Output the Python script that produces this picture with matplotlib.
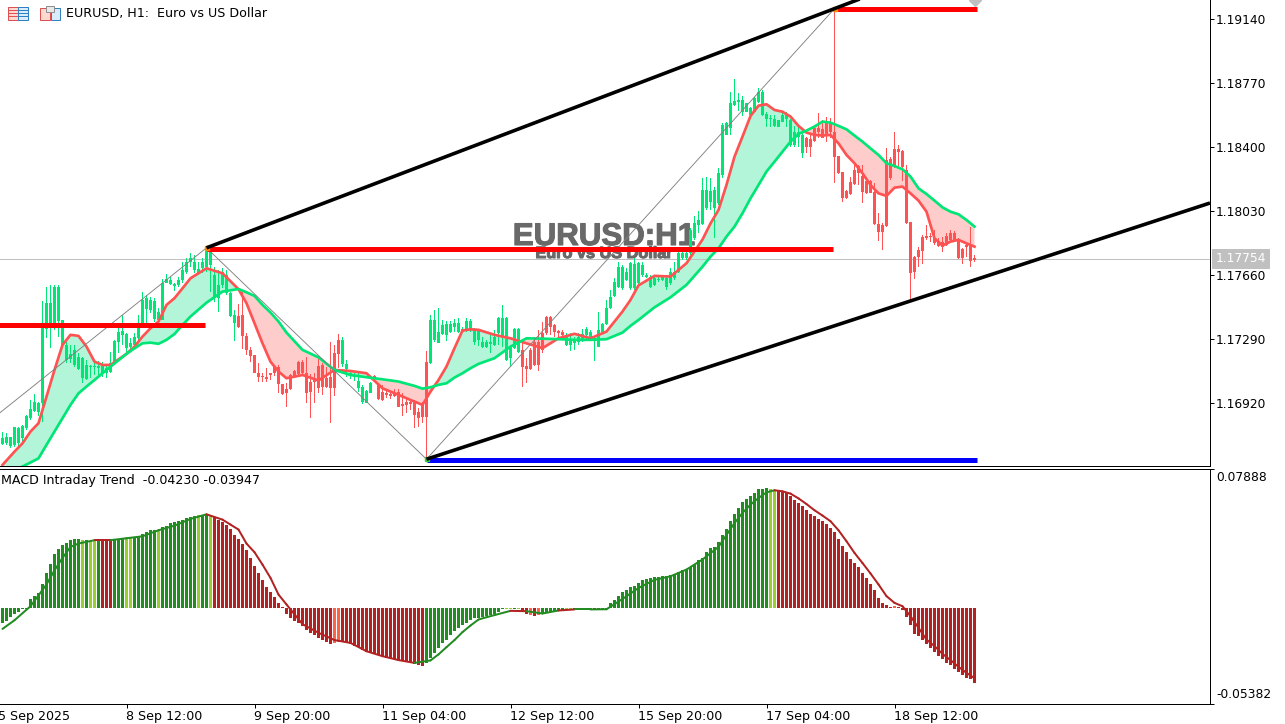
"""EURUSD H1 chart with EMA ribbon, channel, zigzag and MACD Intraday Trend panel."""
import matplotlib
matplotlib.use("Agg")
import matplotlib.patheffects as pe
import matplotlib.pyplot as plt
import numpy as np
from matplotlib.patches import Rectangle

W, H = 1285, 724
PANEL_RIGHT = 1210
MAIN_BOTTOM = 466
SUB_TOP, SUB_BOTTOM = 468.5, 703.5

# prices are stored in points above 1.16000
BASE = 1.16
POINT = 1e-5

BODY_TOP = [
    716, 722, 722, 780, 774, 788, 842, 884, 928, 922,
    1352, 1501, 1501, 1593, 1593, 1400, 1256, 1204, 1227, 1188,
    1179, 1140, 1134, 1136, 1134, 1136, 1125, 1154, 1279, 1333,
    1337, 1319, 1269, 1300, 1371, 1516, 1526, 1516, 1512, 1448,
    1616, 1635, 1632, 1608, 1632, 1689, 1738, 1757, 1738, 1693,
    1738, 1801, 1805, 1660, 1603, 1680, 1660, 1554, 1429, 1423,
    1429, 1308, 1227, 1198, 1096, 1077, 1069, 1092, 1130, 1130,
    1030, 1000, 1082, 1107, 1159, 1159, 1092, 1044, 1053, 1134,
    1140, 1063, 1069, 1208, 1285, 1285, 1146, 1096, 1082, 1050,
    1015, 992, 1038, 1076, 1030, 986, 980, 973, 980, 986,
    915, 928, 928, 928, 870, 922, 1159, 1400, 1400, 1333,
    1371, 1375, 1375, 1381, 1381, 1346, 1394, 1396, 1346, 1342,
    1275, 1275, 1275, 1300, 1410, 1410, 1414, 1246, 1346, 1346,
    1227, 1134, 1227, 1275, 1275, 1323, 1420, 1420, 1371, 1337,
    1333, 1304, 1281, 1285, 1304, 1317, 1346, 1333, 1294, 1342,
    1375, 1468, 1531, 1622, 1708, 1708, 1680, 1728, 1724, 1728,
    1718, 1660, 1651, 1641, 1639, 1647, 1641, 1680, 1680, 1789,
    1789, 1789, 1920, 1959, 1978, 2152, 2152, 2148, 2152, 2248,
    2527, 2537, 2653, 2666, 2672, 2672, 2653, 2624, 2682, 2720,
    2720, 2591, 2566, 2560, 2556, 2585, 2585, 2556, 2489, 2489,
    2470, 2450, 2445, 2508, 2508, 2502, 2537, 2541, 2489, 2348,
    2258, 2148, 2200, 2267, 2290, 2232, 2205, 2205, 2142, 1955,
    1949, 2325, 2329, 2387, 2387, 2377, 2267, 1969, 1766, 1805,
    1882, 1886, 1886, 1872, 1859, 1853, 1888, 1901, 1901, 1862,
    1809, 1834, 1828, 1757,
]
BODY_BOT = [
    683, 687, 672, 678, 687, 716, 774, 832, 876, 870,
    919, 1346, 1362, 1362, 1396, 1256, 1169, 1173, 1140, 1115,
    1063, 1057, 1127, 1129, 1123, 1092, 1092, 1102, 1154, 1275,
    1314, 1236, 1246, 1256, 1294, 1352, 1462, 1458, 1404, 1400,
    1400, 1616, 1608, 1597, 1603, 1632, 1680, 1734, 1689, 1674,
    1699, 1709, 1718, 1535, 1526, 1603, 1554, 1423, 1381, 1362,
    1308, 1227, 1192, 1096, 1069, 1069, 1061, 1084, 1092, 1030,
    972, 976, 1000, 1077, 1088, 1092, 976, 986, 1044, 1005,
    1011, 1011, 1005, 1005, 1204, 1146, 1115, 1077, 1069, 1005,
    928, 922, 980, 1057, 942, 938, 967, 961, 961, 899,
    903, 909, 915, 851, 832, 841, 841, 1150, 1285, 1269,
    1319, 1314, 1333, 1358, 1333, 1333, 1346, 1346, 1275, 1285,
    1246, 1246, 1262, 1256, 1323, 1294, 1169, 1179, 1236, 1217,
    1131, 1115, 1115, 1140, 1140, 1227, 1323, 1362, 1333, 1327,
    1314, 1256, 1256, 1269, 1275, 1285, 1314, 1294, 1285, 1246,
    1333, 1375, 1468, 1539, 1593, 1583, 1631, 1583, 1583, 1612,
    1660, 1651, 1593, 1603, 1631, 1631, 1593, 1612, 1641, 1680,
    1757, 1757, 1786, 1872, 1950, 1955, 2046, 2084, 2046, 2075,
    2238, 2470, 2508, 2643, 2662, 2604, 2604, 2585, 2604, 2662,
    2585, 2560, 2560, 2522, 2518, 2547, 2560, 2412, 2412, 2460,
    2368, 2398, 2398, 2437, 2489, 2454, 2470, 2489, 2344, 2252,
    2103, 2103, 2128, 2186, 2248, 2142, 2136, 2136, 1955, 1911,
    1911, 1944, 2219, 2287, 2373, 2287, 1959, 1674, 1680, 1762,
    1801, 1872, 1878, 1843, 1828, 1824, 1834, 1862, 1862, 1757,
    1757, 1824, 1743, 1745,
]
HIGH = [
    755, 745, 726, 784, 784, 793, 851, 938, 972, 928,
    1512, 1593, 1603, 1603, 1603, 1400, 1275, 1256, 1256, 1208,
    1188, 1169, 1140, 1159, 1163, 1159, 1140, 1217, 1285, 1352,
    1429, 1323, 1294, 1323, 1429, 1564, 1545, 1535, 1526, 1468,
    1635, 1664, 1647, 1616, 1651, 1734, 1757, 1786, 1776, 1738,
    1757, 1815, 1805, 1709, 1689, 1699, 1689, 1564, 1458, 1493,
    1574, 1323, 1242, 1198, 1150, 1096, 1121, 1096, 1140, 1140,
    1030, 1034, 1088, 1111, 1165, 1169, 1188, 1088, 1092, 1188,
    1150, 1130, 1275, 1256, 1319, 1304, 1169, 1111, 1092, 1092,
    1025, 996, 1044, 1082, 1038, 1025, 996, 986, 999, 999,
    976, 947, 938, 938, 890, 928, 1221, 1429, 1458, 1468,
    1400, 1396, 1396, 1404, 1410, 1362, 1410, 1404, 1352, 1346,
    1304, 1285, 1314, 1342, 1416, 1487, 1420, 1256, 1352, 1352,
    1285, 1179, 1237, 1304, 1342, 1391, 1424, 1424, 1375, 1342,
    1340, 1323, 1323, 1300, 1323, 1346, 1358, 1342, 1300, 1448,
    1381, 1516, 1574, 1641, 1737, 1718, 1700, 1737, 1757, 1737,
    1737, 1670, 1660, 1651, 1647, 1660, 1651, 1699, 1737, 1824,
    1814, 1814, 1930, 2000, 2030, 2219, 2225, 2219, 2171, 2277,
    2537, 2547, 2720, 2791, 2714, 2695, 2653, 2629, 2691, 2739,
    2730, 2600, 2585, 2585, 2556, 2595, 2604, 2560, 2522, 2527,
    2489, 2460, 2479, 2527, 2599, 2556, 2575, 2566, 3200, 2348,
    2258, 2152, 2225, 2296, 2296, 2296, 2229, 2209, 2190, 2017,
    1959, 2393, 2344, 2489, 2412, 2383, 2296, 1969, 1770, 1824,
    1891, 1949, 1905, 1920, 1872, 1882, 1901, 1920, 1916, 1872,
    1814, 1847, 1940, 1776,
]
LOW = [
    678, 678, 658, 668, 668, 687, 764, 822, 870, 842,
    813, 1294, 1236, 1343, 1304, 1256, 1150, 1150, 1127, 1111,
    1034, 1053, 1063, 1082, 1082, 1073, 1063, 1092, 1150, 1208,
    1256, 1217, 1217, 1236, 1285, 1352, 1381, 1439, 1391, 1385,
    1400, 1612, 1603, 1570, 1593, 1612, 1666, 1709, 1670, 1660,
    1670, 1680, 1564, 1506, 1448, 1583, 1545, 1420, 1281, 1352,
    1231, 1198, 1159, 1092, 1044, 1044, 1044, 1053, 1077, 976,
    967, 899, 996, 1073, 1073, 1088, 919, 832, 919, 976,
    967, 1005, 807, 961, 1121, 1131, 1069, 1057, 1050, 984,
    915, 918, 976, 1053, 938, 934, 947, 942, 957, 895,
    842, 865, 880, 778, 780, 803, 600, 1146, 1275, 1265,
    1314, 1281, 1323, 1333, 1323, 1327, 1333, 1333, 1256, 1250,
    1236, 1236, 1208, 1250, 1256, 1246, 1165, 1127, 1231, 1208,
    1015, 1038, 1111, 1134, 1107, 1208, 1314, 1314, 1300, 1300,
    1300, 1250, 1223, 1227, 1256, 1275, 1281, 1285, 1165, 1242,
    1327, 1371, 1462, 1531, 1583, 1574, 1625, 1574, 1574, 1603,
    1647, 1641, 1583, 1599, 1622, 1626, 1574, 1603, 1631, 1670,
    1747, 1747, 1776, 1863, 1900, 1949, 2036, 2036, 1872, 2065,
    2219, 2470, 2470, 2637, 2610, 2579, 2604, 2566, 2600, 2653,
    2581, 2518, 2518, 2518, 2514, 2543, 2518, 2398, 2398, 2402,
    2335, 2364, 2340, 2431, 2450, 2450, 2431, 2450, 2194, 2244,
    2084, 2098, 2123, 2180, 2180, 2078, 2128, 2132, 1949, 1859,
    1805, 1940, 2209, 2277, 2287, 2205, 1955, 1516, 1635, 1708,
    1724, 1863, 1853, 1834, 1824, 1795, 1828, 1853, 1853, 1751,
    1724, 1766, 1708, 1737,
]
# bars that are drawn green (inclusive index runs); the rest are red
UP_RUNS = [(0, 58), (85, 92), (107, 129), (141, 200)]

RIBBON_BARS = [
    0, 3, 5, 7, 9, 11, 13, 15, 17, 19, 21, 23, 25, 27, 31, 33, 35, 37, 39, 41, 43, 45,
    47, 51, 55, 59, 61, 63, 65, 67, 69, 71, 75, 79, 83, 87, 91, 95, 99, 103, 105, 107,
    109, 111, 113, 115, 117, 119, 123, 127, 131, 135, 139, 143, 147, 151, 155, 157,
    159, 163, 167, 171, 175, 177, 179, 181, 183, 185, 187, 189, 191, 193, 195, 197,
    199, 201, 203, 205, 207, 209, 211, 213, 215, 217, 219, 221, 223, 225, 227, 229,
    231, 233, 235, 237, 239, 241, 243,
]
FAST_MA = [
    562, 639, 687, 755, 803, 957, 1111, 1256, 1314, 1308, 1246, 1159, 1140, 1140, 1204,
    1246, 1304, 1352, 1391, 1487, 1526, 1583, 1641, 1699, 1670, 1578, 1497, 1381, 1265,
    1159, 1102, 1063, 1082, 1050, 1111, 1105, 1092, 1005, 967, 928, 909, 986, 1053,
    1131, 1237, 1339, 1346, 1343, 1314, 1294, 1265, 1237, 1294, 1320, 1294, 1333, 1449,
    1516, 1600, 1655, 1651, 1728, 1865, 1958, 2036, 2181, 2344, 2460, 2579, 2639, 2647,
    2614, 2604, 2576, 2522, 2483, 2470, 2466, 2470, 2421, 2354, 2306, 2248, 2180, 2132,
    2117, 2165, 2171, 2132, 2090, 2026, 1872, 1830, 1853, 1863, 1843, 1824,
]
SLOW_MA = [
    543, 533, 553, 576, 600, 678, 755, 832, 909, 976, 1015, 1053, 1092, 1130, 1204,
    1236, 1265, 1269, 1262, 1285, 1319, 1371, 1420, 1500, 1564, 1579, 1560, 1539, 1487,
    1443, 1391, 1327, 1227, 1184, 1111, 1082, 1069, 1057, 1044, 1019, 1003, 1011, 1025,
    1034, 1067, 1092, 1121, 1146, 1179, 1246, 1294, 1292, 1289, 1285, 1285, 1289, 1327,
    1366, 1400, 1473, 1531, 1603, 1708, 1766, 1814, 1882, 1940, 2017, 2103, 2180, 2258,
    2315, 2373, 2431, 2476, 2495, 2518, 2547, 2541, 2522, 2502, 2466, 2431, 2392, 2354,
    2306, 2290, 2271, 2229, 2161, 2128, 2090, 2051, 2026, 2011, 1978, 1940,
]

ZIGZAG_BARS = [-1, 51, 106, 208]
ZIGZAG_PTS = [857, 1817, 595, 3200]
UPPER_CHANNEL = [(51, 1817), (208, 3200)]
LOWER_CHANNEL = [(106, 595), (227, 1510)]
# level, first bar, last bar
RED_LEVELS = [(1370, -1, 50.5), (1808, 51, 207.5), (3195, 208, 243.5)]
BLUE_LEVEL = (588, 106, 243.5)

LAST_PRICE = 1.17754
PRICE_TICKS = [1.19140, 1.18770, 1.18400, 1.18030, 1.17660, 1.17290, 1.16920]

# MACD histogram in units of 1e-4
MACD_HIST = [
    -85, -73, -51, -34, -23, -6, -3, 51, 71, 85,
    135, 197, 248, 305, 333, 355, 367, 384, 389, 389,
    384, 384, 384, 384, 384, 386, 381, 378, 384, 389,
    395, 395, 395, 400, 410, 421, 433, 442, 442, 442,
    457, 466, 479, 485, 491, 500, 508, 513, 523, 525,
    528, 532, 525, 513, 500, 485, 472, 447, 416, 393,
    365, 331, 284, 241, 199, 158, 120, 90, 66, 32,
    4, -34, -56, -73, -85, -102, -124, -141, -152, -169,
    -180, -190, -203, -197, -192, -192, -196, -203, -214, -218,
    -237, -248, -250, -258, -267, -272, -280, -282, -288, -297,
    -299, -306, -305, -316, -323, -329, -309, -280, -252, -227,
    -199, -177, -152, -131, -113, -96, -83, -69, -58, -55,
    -49, -45, -41, -34, -19, -4, -7, -7, -4, -4,
    -23, -32, -36, -45, -39, -30, -27, -23, -17, -13,
    -11, -7, -7, -11, -10, -10, -10, -7, -11, -10,
    -10, -6, 27, 49, 68, 89, 102, 122, 128, 145,
    162, 165, 171, 177, 177, 182, 184, 188, 192, 203,
    214, 218, 233, 243, 271, 286, 316, 342, 348, 376,
    416, 447, 495, 534, 566, 600, 616, 632, 650, 675,
    675, 681, 675, 669, 666, 658, 650, 632, 613, 594,
    575, 553, 534, 519, 506, 491, 478, 453, 430, 393,
    350, 316, 280, 254, 231, 199, 173, 139, 102, 55,
    27, 17, 6, 10, 4, -11, -47, -94, -143, -158,
    -177, -205, -227, -246, -271, -289, -309, -323, -346, -361,
    -380, -393, -402, -423,
]
RED_RUNS = [(25, 27), (53, 105), (130, 134), (143, 143), (148, 148), (194, 243)]
LIGHT_BARS = [20, 22, 23, 31, 32, 39, 49, 52, 126, 127, 129, 141, 142, 147, 192, 193]
TOMATO_BARS = [83, 84, 132, 134, 223]

SIGNAL_BARS = [
    0, 3, 7, 11, 13, 15, 17, 19, 23, 27, 31, 35, 39, 43, 47, 51, 53, 55, 57, 59, 61, 63,
    65, 67, 69, 71, 75, 79, 83, 87, 91, 95, 99, 103, 107, 109, 111, 113, 115, 117, 119,
    121, 123, 127, 131, 135, 139, 143, 147, 151, 155, 159, 163, 167, 171, 175, 179, 183,
    185, 187, 189, 191, 193, 195, 197, 199, 201, 203, 205, 207, 209, 211, 213, 215, 217,
    219, 221, 223, 225, 227, 229, 231, 233, 235, 237, 239, 241, 243,
]
MACD_SIGNAL = [
    -117, -68, 11, 134, 214, 284, 346, 365, 384, 384, 395, 406, 440, 466, 504, 530, 515,
    500, 472, 444, 365, 316, 246, 171, 77, 21, -90, -139, -180, -196, -243, -271, -293,
    -309, -295, -261, -220, -180, -135, -98, -64, -51, -39, -15, -17, -30, -13, -7, -7,
    -6, 52, 114, 160, 180, 218, 275, 346, 481, 538, 585, 622, 654, 666, 660, 647, 620,
    588, 553, 523, 491, 440, 378, 312, 255, 196, 134, 68, 30, 11, -45, -111, -177, -214,
    -258, -293, -331, -365, -395,
]
MACD_LIMITS = (-0.05382, 0.07888)

DATE_TICKS = [-1, 31, 63, 95, 127, 159, 191, 223]
DATE_LABELS = ["5 Sep 2025", "8 Sep 12:00", "9 Sep 20:00", "11 Sep 04:00",
               "12 Sep 12:00", "15 Sep 20:00", "17 Sep 04:00", "18 Sep 12:00"]

GREEN = "#00e676"
RED = "#ff5252"
GREEN_FILL = "#b2f5d8"
RED_FILL = "#ffcccc"
DARK_GREEN = "#228b22"
DARK_RED = "#b22222"
LIGHT_GREEN = "#9acd32"
TOMATO = "#ff6347"
GRID_GREY = "#c0c0c0"
TITLE_GREY = "#696969"
PX = 0.72  # one pixel in points at dpi 100
TICK_SIZE = 8.8
TEXT_SIZE = 9.1


def price(pts):
    return BASE + np.asarray(pts, dtype=float) * POINT


def macd(vals):
    return np.asarray(vals, dtype=float) * 1e-4


plt.rcParams["font.family"] = "DejaVu Sans"

fig = plt.figure(figsize=(W / 100, H / 100), dpi=100)
ax = fig.add_axes([0, 1 - MAIN_BOTTOM / H, PANEL_RIGHT / W, MAIN_BOTTOM / H])
ax2 = fig.add_axes([0, 1 - SUB_BOTTOM / H, PANEL_RIGHT / W, (SUB_BOTTOM - SUB_TOP) / H])

# x: one bar every 4 px, bar 0 centred on pixel 2.5
x_limits = (-2.5 / 4, (PANEL_RIGHT - 2.5) / 4)
bars = np.arange(len(BODY_TOP))

up = np.zeros(len(bars), dtype=bool)
for a, b in UP_RUNS:
    up[a:b + 1] = True
candle_colors = [GREEN if u else RED for u in up]

ribbon_x = np.array(RIBBON_BARS)
fast = price(FAST_MA)
slow = price(SLOW_MA)
ax.fill_between(ribbon_x, fast, slow, where=fast >= slow, interpolate=True,
                color=GREEN_FILL, lw=0, zorder=1)
ax.fill_between(ribbon_x, fast, slow, where=fast <= slow, interpolate=True,
                color=RED_FILL, lw=0, zorder=1)

ax.axhline(LAST_PRICE, color=GRID_GREY, lw=1 * PX, zorder=2)

# wicks and bodies as bars: both land on whole pixels
high, low = price(HIGH), price(LOW)
ax.bar(bars, high - low, bottom=low, width=0.25, color=candle_colors, lw=0, zorder=3)
top, bot = price(BODY_TOP), price(BODY_BOT)
ax.bar(bars, top - bot, bottom=bot, width=0.75, color=candle_colors, lw=0, zorder=3)

ax.plot(ribbon_x, fast, color=RED, lw=2.7 * PX, zorder=4)
ax.plot(ribbon_x, slow, color=GREEN, lw=2.7 * PX, zorder=4)

ax.plot(ZIGZAG_BARS, price(ZIGZAG_PTS), color="#808080", lw=0.9 * PX, zorder=5)

for level, first, last in RED_LEVELS:
    ax.plot([first, last], price([level, level]), color="#ff0000", lw=5 * PX,
            solid_capstyle="butt", zorder=6)
level, first, last = BLUE_LEVEL
ax.plot([first, last], price([level, level]), color="#0000ff", lw=5 * PX,
        solid_capstyle="butt", zorder=6)

for (b0, p0), (b1, p1) in [UPPER_CHANNEL, LOWER_CHANNEL]:
    slope = (p1 - p0) / (b1 - b0)
    end_pts = p0 + slope * (x_limits[1] - b0)
    ax.plot([b0, x_limits[1]], price([p0, end_pts]), color="black", lw=3.6 * PX,
            solid_capstyle="butt", zorder=7)

ax.plot([51, 208], price([1817, 3200]), ls="none", marker="s", ms=4 * PX,
        color="#ff8c00", zorder=6)
ax.plot([106], price([595]), ls="none", marker="s", ms=4 * PX, color="#32cd32", zorder=6)
ax.plot([243], [1.19250], ls="none", marker="D", ms=8.5 * PX, color=GRID_GREY, zorder=6)

ax.set_xlim(x_limits)
ax.set_ylim(1.165558, 1.192498)
ax.set_xticks([])
ax.yaxis.tick_right()
ax.set_yticks(PRICE_TICKS)
ax.set_yticklabels([f"{p:.5f}" for p in PRICE_TICKS])
ax.tick_params(axis="y", length=4 * PX, width=PX, pad=1.5, labelsize=TICK_SIZE)

ax.spines["top"].set_visible(False)
ax.spines["left"].set_visible(False)
ax2.spines["left"].set_visible(False)
for a_ in (ax, ax2):
    for spine in a_.spines.values():
        spine.set_linewidth(PX)

ax.annotate(f"{LAST_PRICE:.5f}", xy=(1, LAST_PRICE), xycoords=ax.get_yaxis_transform(),
            xytext=(6, 0), textcoords="offset pixels", va="center", ha="left",
            color="white", fontsize=TICK_SIZE, annotation_clip=False, zorder=10,
            bbox=dict(fc=GRID_GREY, ec="none", boxstyle="square,pad=0.3"))

# MACD panel
hist_colors = [DARK_GREEN] * len(bars)
for a, b in RED_RUNS:
    for i in range(a, b + 1):
        hist_colors[i] = DARK_RED
for i in LIGHT_BARS:
    hist_colors[i] = LIGHT_GREEN
for i in TOMATO_BARS:
    hist_colors[i] = TOMATO

ax2.bar(bars, macd(MACD_HIST), width=0.75, color=hist_colors, lw=0, zorder=2)

signal = macd(MACD_SIGNAL)
for j in range(len(SIGNAL_BARS) - 1):
    c = hist_colors[SIGNAL_BARS[j + 1]]
    seg_color = DARK_RED if c in (DARK_RED, TOMATO) else DARK_GREEN
    ax2.plot(SIGNAL_BARS[j:j + 2], signal[j:j + 2], color=seg_color, lw=2 * PX,
             solid_capstyle="round", zorder=3)

ax2.set_xlim(x_limits)
ax2.set_ylim(MACD_LIMITS)
ax2.set_xticks(DATE_TICKS[1:])
ax2.set_xticklabels([])
ax2.tick_params(axis="x", length=4 * PX, width=PX)
ax2.yaxis.tick_right()
ax2.set_yticks(MACD_LIMITS)
ax2.set_yticklabels([])
ax2.tick_params(axis="y", length=4 * PX, width=PX)

for tick, label in zip(DATE_TICKS, DATE_LABELS):
    ax2.annotate(label, xy=(tick, 0), xycoords=ax2.get_xaxis_transform(),
                 xytext=(0, -13), textcoords="offset pixels", ha="left", va="center",
                 fontsize=TEXT_SIZE, annotation_clip=False)

for value, dy in [(MACD_LIMITS[1], -9), (MACD_LIMITS[0], 9)]:
    ax2.annotate(f"{value:.5f}", xy=(1, value), xycoords=ax2.get_yaxis_transform(),
                 xytext=(6, dy), textcoords="offset pixels", ha="left", va="center",
                 fontsize=TICK_SIZE, annotation_clip=False)

ax2.text(1 / PANEL_RIGHT, 1 - 12 / (SUB_BOTTOM - SUB_TOP),
         "MACD Intraday Trend  -0.04230 -0.03947", transform=ax2.transAxes,
         ha="left", va="center", fontsize=TEXT_SIZE)

# header, big watermark title and window icons sit on a pixel overlay
over = fig.add_axes([0, 0, 1, 1], facecolor="none", zorder=-1)
over.set_xlim(0, W)
over.set_ylim(H, 0)
over.axis("off")
over.text(66, 14, "EURUSD, H1:  Euro vs US Dollar", fontsize=TEXT_SIZE, va="center")
heavy = [pe.withStroke(linewidth=0.8, foreground=TITLE_GREY)]
over.text(604, 245, "EURUSD:H1", family="Liberation Sans", weight="bold", fontsize=22.5,
          color=TITLE_GREY, ha="center", va="baseline", path_effects=heavy)
over.text(604, 258, "Euro vs US Dollar", family="Liberation Sans", weight="bold",
          fontsize=11.7, color=TITLE_GREY, ha="center", va="baseline", path_effects=heavy)

ICON_RED, ICON_BLUE = "#e05050", "#2f80c0"
over.add_patch(Rectangle((7.5, 6.5), 10.5, 13, fc="#ffd8d0", ec=ICON_RED, lw=PX))
over.add_patch(Rectangle((18, 6.5), 10, 13, fc="#d8ecfa", ec=ICON_BLUE, lw=PX))
for y in (10, 13, 16):
    over.plot([9, 17], [y, y], color=ICON_RED, lw=PX)
    over.plot([19, 27], [y, y], color=ICON_BLUE, lw=PX)
over.add_patch(Rectangle((39.5, 7.5), 10, 12, fc="#ffd8d0", ec=ICON_RED, lw=PX))
over.add_patch(Rectangle((50.5, 7.5), 9.5, 12, fc="#d8ecfa", ec=ICON_BLUE, lw=PX))
over.add_patch(Rectangle((45.5, 5.5), 8, 6, fc="#e8e8e8", ec="#909090", lw=PX))

for a_ in (ax, ax2):
    a_.patch.set_alpha(0)

fig.savefig("out.png", dpi=100)
